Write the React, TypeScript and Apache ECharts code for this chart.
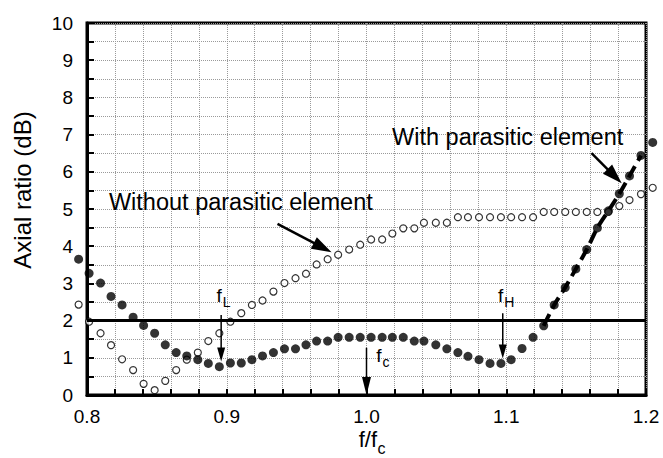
import React, { useEffect, useRef } from "react";
import * as echarts from "echarts";

// Normalised frequency f/fc of every measured point
const freqRatio = [
  0.794, 0.8015, 0.8097, 0.8172, 0.8251, 0.833, 0.8405, 0.8484, 0.856, 0.8638,
  0.8714, 0.8793, 0.8868, 0.8947, 0.9026, 0.9104, 0.918, 0.9256, 0.9334, 0.9413,
  0.9492, 0.9567, 0.9643, 0.9722, 0.9797, 0.9876, 0.9955, 1.0033, 1.0112, 1.0185,
  1.0263, 1.0342, 1.0411, 1.0496, 1.0575, 1.0654, 1.0726, 1.0805, 1.0884, 1.0962,
  1.1035, 1.1113, 1.1192, 1.1268, 1.1343, 1.1422, 1.1498, 1.1576, 1.1652, 1.1731,
  1.1809, 1.1882, 1.1964, 1.2048,
];

// Axial ratio (dB) with parasitic element (filled circles)
const withParasitic = [
  3.65, 3.27, 3.01, 2.65, 2.42, 2.09, 1.87, 1.66, 1.35, 1.14,
  1.05, 0.95, 0.85, 0.76, 0.86, 0.86, 0.95, 1.05, 1.14, 1.24,
  1.24, 1.35, 1.45, 1.45, 1.55, 1.55, 1.55, 1.55, 1.55, 1.55,
  1.55, 1.45, 1.45, 1.35, 1.24, 1.14, 1.04, 0.95, 0.85, 0.85,
  0.95, 1.25, 1.55, 1.86, 2.42, 2.89, 3.39, 3.91, 4.49, 4.95,
  5.41, 5.89, 6.44, 6.79,
];

// Axial ratio (dB) without parasitic element (open circles)
const withoutParasitic = [
  2.43, 1.97, 1.66, 1.34, 0.96, 0.67, 0.3, 0.13, 0.38, 0.67,
  0.95, 1.14, 1.45, 1.66, 1.97, 2.2, 2.42, 2.54, 2.78, 3.01,
  3.14, 3.26, 3.51, 3.65, 3.77, 3.91, 4.04, 4.18, 4.18, 4.34,
  4.48, 4.48, 4.63, 4.63, 4.63, 4.78, 4.78, 4.78, 4.78, 4.78,
  4.78, 4.78, 4.78, 4.92, 4.92, 4.92, 4.92, 4.92, 4.92, 4.92,
  5.08, 5.24, 5.4, 5.57,
];

// range of the "with parasitic" points that the dashed fit curve follows
const fitFirstIndex = 43;
const fitLastIndex = 52;

const arLimit = 2; // 2 dB axial-ratio limit line

const X_MIN = 0.8;
const X_MAX = 1.2;
const Y_MIN = 0;
const Y_MAX = 10;

const FONT = '"Liberation Sans", Arial, Helvetica, sans-serif';

// annotation arrows in data coordinates
const arrows = [
  { from: [0.896, 2.15], to: [0.896, 0.9], head: 14, width: 8, lw: 1.5 },
  { from: [1.0975, 2.2], to: [1.0975, 0.98], head: 14, width: 8, lw: 1.5 },
  { from: [1.0, 1.27], to: [1.0, 0.0], head: 18, width: 9, lw: 1.5 },
  { from: [0.9363, 4.6], to: [0.975, 3.84], head: 20, width: 13, lw: 2.5 },
  { from: [1.161, 6.5], to: [1.1826, 5.69], head: 20, width: 13, lw: 2.5 },
];

// subscript labels: junction point (data coords) at main-text baseline
const subLabels = [
  { main: "f", sub: "L", at: [0.896, 2.5] },
  { main: "f", sub: "H", at: [1.0975, 2.5] },
  { main: "f", sub: "c", at: [1.0104, 0.89] },
];

const plainLabels = [
  { text: "Without parasitic element", at: [0.8157, 4.97] },
  { text: "With parasitic element", at: [1.0183, 6.72] },
];

export default function App() {
  const ref = useRef<HTMLDivElement>(null);

  useEffect(() => {
    const chart = echarts.init(ref.current!, undefined, { renderer: "svg" });

    const filled = freqRatio.map((x, i) => [x, withParasitic[i]]);
    const open = freqRatio.map((x, i) => [x, withoutParasitic[i]]);
    const fit = freqRatio
      .slice(fitFirstIndex, fitLastIndex + 1)
      .map((x, i) => [x, withParasitic[fitFirstIndex + i]]);

    const option: any = {
      animation: false,
      backgroundColor: "#fff",
      grid: {
        left: 87,
        right: 17,
        top: 23,
        bottom: 63,
        show: true,
        borderColor: "#000",
        borderWidth: 3,
        backgroundColor: "transparent",
      },
      xAxis: {
        type: "value",
        min: X_MIN,
        max: X_MAX,
        interval: 0.02,
        axisLine: { show: true, lineStyle: { color: "#000", width: 3 } },
        axisTick: {
          show: true,
          inside: true,
          length: 6,
          lineStyle: { color: "#000", width: 2 },
        },
        axisLabel: {
          interval: 0,
          color: "#000",
          fontSize: 19,
          fontFamily: FONT,
          margin: 12,
          formatter: (v: number) => {
            const r = Math.round(v * 50);
            return r % 5 === 0 ? (r / 50).toFixed(1) : "";
          },
        },
        splitLine: {
          show: true,
          lineStyle: { color: "#9a9a9a", width: 1, type: "dotted" },
        },
      },
      yAxis: {
        type: "value",
        min: Y_MIN,
        max: Y_MAX,
        interval: 0.5,
        axisLine: { show: true, lineStyle: { color: "#000", width: 3 } },
        axisTick: {
          show: true,
          inside: true,
          length: 7,
          lineStyle: { color: "#000", width: 2 },
        },
        axisLabel: {
          interval: 0,
          color: "#000",
          fontSize: 19,
          fontFamily: FONT,
          margin: 14,
          formatter: (v: number) =>
            Math.abs(v - Math.round(v)) < 1e-6 ? String(Math.round(v)) : "",
        },
        splitLine: {
          show: true,
          lineStyle: { color: "#9a9a9a", width: 1, type: "dotted" },
        },
      },
      series: [
        {
          name: "fit",
          type: "line",
          data: fit,
          smooth: 0.3,
          symbol: "none",
          clip: false,
          lineStyle: { color: "#000", width: 4, type: [13, 6] },
          z: 3,
        },
        {
          name: "Without parasitic element",
          type: "scatter",
          data: open,
          clip: false,
          symbol: "circle",
          symbolSize: 7,
          itemStyle: { color: "#fff", borderColor: "#000", borderWidth: 1.2 },
          z: 4,
          markLine: {
            silent: true,
            symbol: ["none", "none"],
            label: { show: false },
            lineStyle: { color: "#000", width: 3, type: "solid" },
            data: [{ yAxis: arLimit }],
          },
        },
        {
          name: "With parasitic element",
          type: "scatter",
          data: filled,
          clip: false,
          symbol: "circle",
          symbolSize: 9,
          itemStyle: { color: "#000" },
          z: 5,
        },
      ],
    };

    chart.setOption(option);

    const px = (p: number[]) =>
      chart.convertToPixel({ gridIndex: 0 }, p) as unknown as number[];

    const elements: any[] = [];
    const txt = (
      text: string,
      x: number,
      baseline: number,
      size: number,
      align: string
    ) => ({
      type: "text",
      x,
      y: baseline - 0.35 * size,
      z: 100,
      style: {
        text,
        fill: "#000",
        font: `${size}px ${FONT}`,
        textAlign: align,
        align,
        textVerticalAlign: "middle",
        verticalAlign: "middle",
      },
    });

    arrows.forEach((a) => {
      const p0 = px(a.from);
      const p1 = px(a.to);
      const dx = p1[0] - p0[0];
      const dy = p1[1] - p0[1];
      const len = Math.sqrt(dx * dx + dy * dy);
      const ux = dx / len;
      const uy = dy / len;
      const bx = p1[0] - ux * a.head;
      const by = p1[1] - uy * a.head;
      const nx = -uy;
      const ny = ux;
      elements.push({
        type: "line",
        z: 100,
        shape: { x1: p0[0], y1: p0[1], x2: bx + ux * 2, y2: by + uy * 2 },
        style: { stroke: "#000", lineWidth: a.lw },
      });
      elements.push({
        type: "polygon",
        z: 100,
        shape: {
          points: [
            [p1[0], p1[1]],
            [bx + (nx * a.width) / 2, by + (ny * a.width) / 2],
            [bx - (nx * a.width) / 2, by - (ny * a.width) / 2],
          ],
        },
        style: { fill: "#000" },
      });
    });

    subLabels.forEach((l) => {
      const p = px(l.at);
      elements.push(txt(l.main, p[0] + 0.5, p[1], 19, "right"));
      elements.push(txt(l.sub, p[0] + 1.5, p[1] + 5, 14, "left"));
    });

    plainLabels.forEach((l) => {
      const p = px(l.at);
      elements.push(txt(l.text, p[0], p[1], 23.5, "left"));
    });

    // x-axis title f/fc
    const c0 = px([(X_MIN + X_MAX) / 2, Y_MIN]);
    elements.push(txt("f/f", c0[0] + 10.5, c0[1] + 52, 22, "right"));
    elements.push(txt("c", c0[0] + 11, c0[1] + 59, 16, "left"));

    // y-axis title
    const yTop = px([X_MIN, Y_MAX]);
    const yBot = px([X_MIN, Y_MIN]);
    elements.push({
      type: "text",
      x: 22,
      y: (yTop[1] + yBot[1]) / 2 - 19,
      rotation: Math.PI / 2,
      z: 100,
      style: {
        text: "Axial ratio (dB)",
        fill: "#000",
        font: `24px ${FONT}`,
        textAlign: "center",
        align: "center",
        textVerticalAlign: "middle",
        verticalAlign: "middle",
      },
    });

    chart.setOption({ graphic: elements });

    return () => chart.dispose();
  }, []);

  return (
    <div
      ref={ref}
      style={{ position: "fixed", left: 0, top: 0, width: 663, height: 458 }}
    />
  );
}
